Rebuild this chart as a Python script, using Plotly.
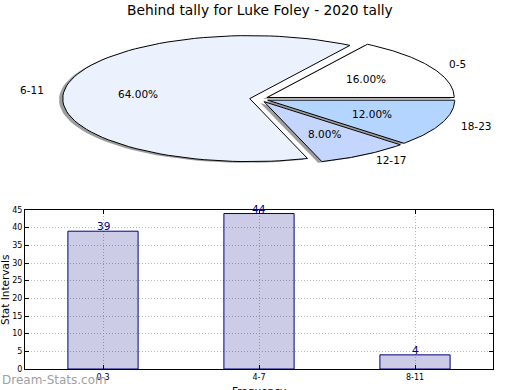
import numpy as np
import plotly.graph_objects as go

# ---- data ----
title_text = "Behind tally for Luke Foley - 2020 tally"
pie_labels = ["0-5", "6-11", "12-17", "18-23"]
pie_values = [4, 16, 2, 3]
bar_categories = ["0-3", "4-7", "8-11"]
bar_values = [39, 44, 4]
y_ticks = [0, 5, 10, 15, 20, 25, 30, 35, 40, 45]

# ---- styles / geometry ----
W, H = 520, 390
pie_colors = ["#ffffff", "#ebf1fd", "#c4d6fd", "#b3d5ff"]
cx, cy, rx, ry = 259.0, 99.0, 187.0, 63.0
explode = 0.05
font_family = "DejaVu Sans"

fig = go.Figure()

total = float(sum(pie_values))
fracs = [v / total for v in pie_values]
starts = np.cumsum([0.0] + fracs[:-1]) * 360.0
ends = starts + np.array(fracs) * 360.0

wedges = []
for i, (a0, a1) in enumerate(zip(starts, ends)):
    mid = np.radians((a0 + a1) / 2.0)
    ox = cx + explode * rx * np.cos(mid)
    oy = cy - explode * ry * np.sin(mid)
    th = np.radians(np.linspace(a0, a1, 80))
    xs = np.concatenate([[ox], ox + rx * np.cos(th), [ox]])
    ys = np.concatenate([[oy], oy - ry * np.sin(th), [oy]])
    wedges.append((xs, ys, mid, ox, oy))

# shadows
for i, (xs, ys, mid, ox, oy) in enumerate(wedges):
    fig.add_trace(go.Scatter(
        x=xs - 0.02 * rx, y=ys + 0.02 * ry, xaxis="x2", yaxis="y2",
        mode="lines", fill="toself", fillcolor="rgba(60,60,60,0.5)",
        line=dict(width=0), hoverinfo="skip", showlegend=False))
# wedges
for i, (xs, ys, mid, ox, oy) in enumerate(wedges):
    fig.add_trace(go.Scatter(
        x=xs, y=ys, xaxis="x2", yaxis="y2",
        mode="lines", fill="toself", fillcolor=pie_colors[i],
        line=dict(color="black", width=1), hoverinfo="skip", showlegend=False))

# labels and percentages
for i, (xs, ys, mid, ox, oy) in enumerate(wedges):
    lx = ox + 1.1 * rx * np.cos(mid)
    ly = oy - 1.1 * ry * np.sin(mid)
    fig.add_annotation(x=lx, y=ly, xref="x2", yref="y2", text=pie_labels[i],
                       showarrow=False, xanchor="left" if np.cos(mid) >= 0 else "right",
                       yanchor="middle", font=dict(family=font_family, size=10.5, color="black"))
    px = ox + 0.6 * rx * np.cos(mid)
    py = oy - 0.6 * ry * np.sin(mid)
    fig.add_annotation(x=px, y=py, xref="x2", yref="y2", text=f"{fracs[i]*100:.2f}%",
                       showarrow=False, xanchor="center", yanchor="middle",
                       font=dict(family=font_family, size=10.5, color="black"))

# bar chart
fig.add_trace(go.Bar(
    x=bar_categories, y=bar_values, width=0.45,
    marker=dict(color="rgba(0,0,128,0.2)", line=dict(color="#000080", width=1)),
    showlegend=False, hoverinfo="skip"))
for c, v in zip(bar_categories, bar_values):
    fig.add_annotation(x=c, y=v, xref="x", yref="y", text=str(v), showarrow=False,
                       xanchor="center", yanchor="bottom", yshift=-3,
                       font=dict(family=font_family, size=10.5, color="#000080"))

x0, x1 = 25 / W, 493 / W
yb, yt = (H - 369) / H, (H - 210) / H

grid = dict(showgrid=True, gridcolor="#b8b8b8", griddash="1px,2px", gridwidth=1)

fig.update_layout(
    template="none",
    width=W, height=H, margin=dict(l=0, r=0, t=0, b=0, pad=0, autoexpand=False),
    paper_bgcolor="white", plot_bgcolor="rgba(0,0,0,0)",
    font=dict(family=font_family, color="black"),
    showlegend=False,
    xaxis=dict(domain=[x0, x1], range=[-0.5, 2.5], anchor="y", automargin=False,
               showline=True, linecolor="black", linewidth=1, mirror="ticks",
               ticks="inside", ticklen=4, tickcolor="black",
               tickfont=dict(size=8, family=font_family), zeroline=False, **grid),
    yaxis=dict(domain=[yb, yt], range=[0, 45], anchor="x", automargin=False,
               tickvals=y_ticks,
               showline=True, linecolor="black", linewidth=1, mirror="ticks",
               ticks="inside", ticklen=4, tickcolor="black",
               tickfont=dict(size=8, family=font_family), zeroline=False, **grid),
    xaxis2=dict(domain=[0, 1], range=[0, W], anchor="y2", visible=False,
                fixedrange=True, automargin=False),
    yaxis2=dict(domain=[0, 1], range=[H, 0], anchor="x2", visible=False,
                fixedrange=True, automargin=False),
)

fig.add_annotation(x=0.5, y=1 - 10 / H, xref="paper", yref="paper", text=title_text,
                   showarrow=False, xanchor="center", yanchor="middle",
                   font=dict(family=font_family, size=13.8, color="black"))
fig.add_annotation(x=5 / W, y=(H - 290) / H, xref="paper", yref="paper", text="Stat Intervals",
                   textangle=-90, showarrow=False, xanchor="center", yanchor="middle",
                   font=dict(family=font_family, size=10.5, color="black"))
fig.add_annotation(x=259 / W, y=0, xref="paper", yref="paper", text="Frequency",
                   showarrow=False, xanchor="center", yanchor="top", yshift=7,
                   font=dict(family=font_family, size=10.5, color="black"))
fig.add_annotation(x=0, y=(H - 380) / H, xref="paper", yref="paper", text="Dream-Stats.com",
                   showarrow=False, xanchor="left", yanchor="middle",
                   font=dict(family=font_family, size=12, color="#a0a0a0"))

fig.write_html("out.html", config={"displayModeBar": False},
               post_script="document.body.style.margin='0';document.body.style.padding='0';")
